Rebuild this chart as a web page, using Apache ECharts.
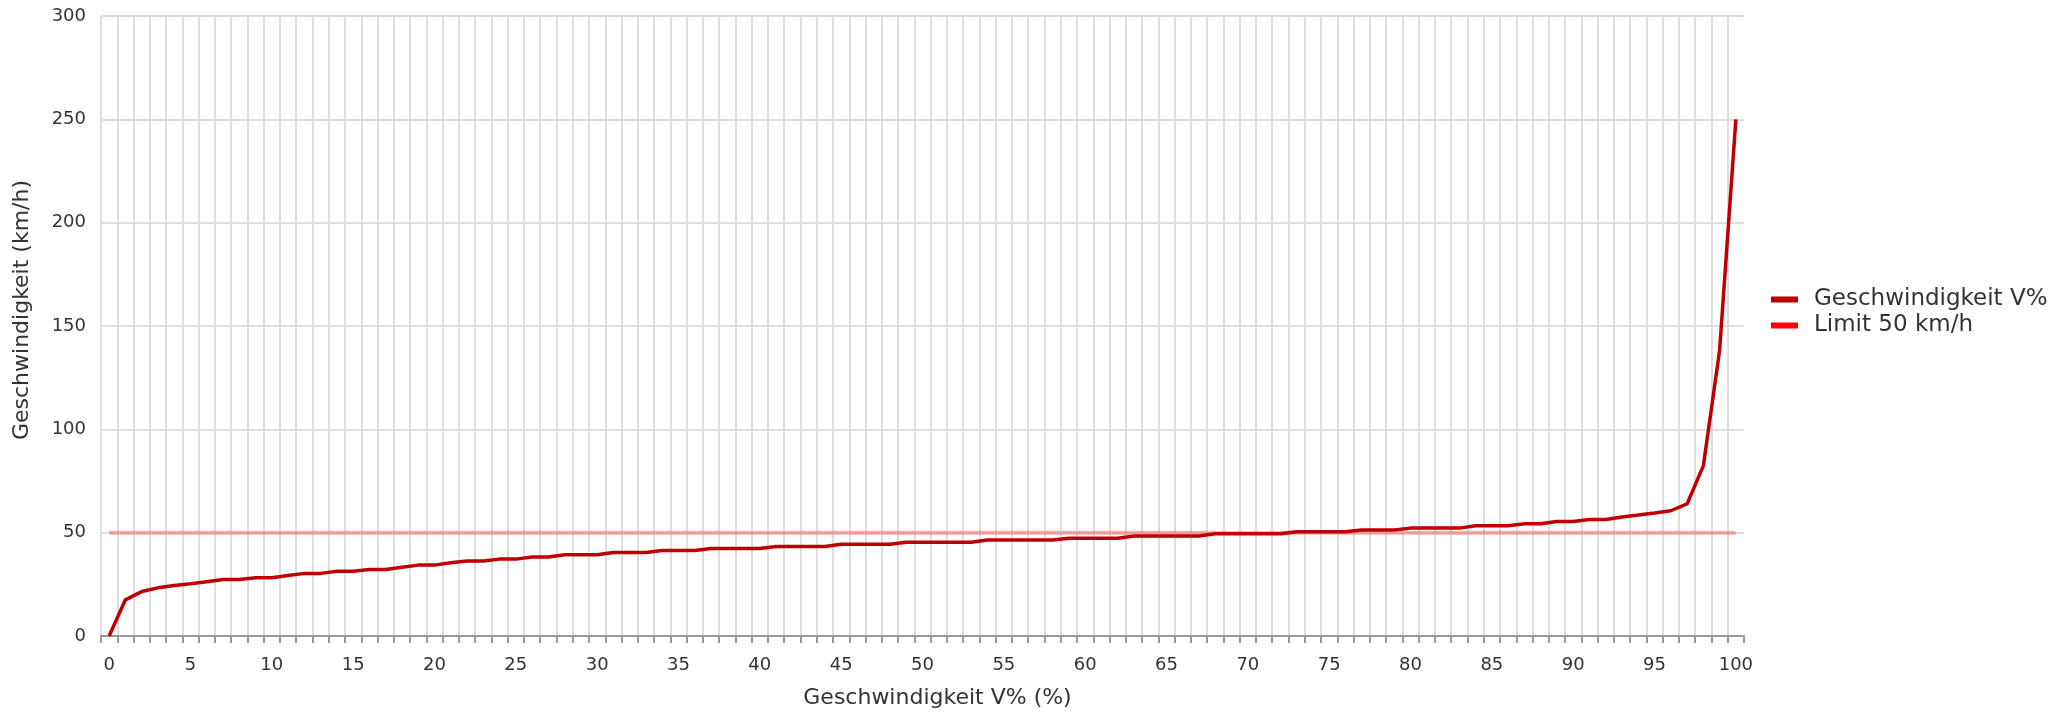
<!DOCTYPE html>
<html>
<head>
<meta charset="utf-8">
<script src="https://cdn.jsdelivr.net/npm/echarts@6/dist/echarts.min.js"></script>
<style>
html,body{margin:0;padding:0;background:#fff;}
#chart{width:2058px;height:714px;}
</style>
</head>
<body>
<div id="chart"></div>
<script>
var categories = ['0','1','2','3','4','5','6','7','8','9','10','11','12','13','14','15','16','17','18','19','20','21','22','23','24','25','26','27','28','29','30','31','32','33','34','35','36','37','38','39','40','41','42','43','44','45','46','47','48','49','50','51','52','53','54','55','56','57','58','59','60','61','62','63','64','65','66','67','68','69','70','71','72','73','74','75','76','77','78','79','80','81','82','83','84','85','86','87','88','89','90','91','92','93','94','95','96','97','98','99','100'];

var speedValues = [0, 17.5, 21.5, 23.3, 24.4, 25.3, 26.3, 27.3, 27.3, 28.2,
  28.2, 29.3, 30.3, 30.3, 31.3, 31.3, 32.2, 32.2, 33.3, 34.3,
  34.3, 35.4, 36.3, 36.3, 37.2, 37.2, 38.2, 38.2, 39.3, 39.3,
  39.3, 40.4, 40.4, 40.4, 41.4, 41.4, 41.4, 42.3, 42.3, 42.3,
  42.3, 43.3, 43.3, 43.3, 43.3, 44.4, 44.4, 44.4, 44.4, 45.4,
  45.4, 45.4, 45.4, 45.4, 46.4, 46.4, 46.4, 46.4, 46.4, 47.3,
  47.3, 47.3, 47.3, 48.4, 48.4, 48.4, 48.4, 48.4, 49.5, 49.5,
  49.5, 49.5, 49.5, 50.4, 50.4, 50.4, 50.4, 51.3, 51.3, 51.3,
  52.2, 52.2, 52.2, 52.2, 53.3, 53.3, 53.3, 54.3, 54.3, 55.4,
  55.4, 56.4, 56.4, 57.6, 58.6, 59.5, 60.6, 63.9, 82.3, 138.2,
  250];

var limitValue = 50;
var limitValues = categories.map(function () { return limitValue; });

var yTicks = [0, 50, 100, 150, 200, 250, 300];

var seriesNames = ['Geschwindigkeit V%', 'Limit 50 km/h'];
var xAxisTitle = 'Geschwindigkeit V% (%)';
var yAxisTitle = 'Geschwindigkeit (km/h)';

var chart = echarts.init(document.getElementById('chart'), null, {renderer: 'canvas'});
var font = 'DejaVu Sans';
chart.setOption({
  animation: false,
  backgroundColor: '#ffffff',
  textStyle: {fontFamily: font},
  grid: {left: 101, right: 314, top: 16, bottom: 76, containLabel: false},
  legend: {
    orient: 'vertical',
    left: 1766,
    top: 283,
    itemGap: 3,
    itemWidth: 27,
    itemHeight: 6,
    icon: 'rect',
    textStyle: {fontFamily: font, fontSize: 23, color: '#333333', padding: [0, 0, 0, 11]},
    data: [
      {name: seriesNames[0], itemStyle: {color: '#c00000'}},
      {name: seriesNames[1], itemStyle: {color: '#ff0000', opacity: 1}}
    ]
  },
  xAxis: {
    type: 'category',
    data: categories,
    boundaryGap: true,
    name: xAxisTitle,
    nameLocation: 'middle',
    nameGap: 51,
    nameTextStyle: {fontFamily: font, fontSize: 22, color: '#333333', padding: [0, 0, 0, 30]},
    axisLine: {show: true, lineStyle: {color: '#999999', width: 2}},
    axisTick: {show: true, interval: 0, length: 7, lineStyle: {color: '#999999', width: 2}},
    axisLabel: {interval: 4, margin: 20, fontFamily: font, fontSize: 18, color: '#333333'},
    splitLine: {show: true, interval: 0, showMaxLine: false, lineStyle: {color: '#dedede', width: 2}}
  },
  yAxis: {
    type: 'value',
    min: yTicks[0],
    max: yTicks[yTicks.length - 1],
    interval: 50,
    name: yAxisTitle,
    nameLocation: 'middle',
    nameGap: 68,
    nameTextStyle: {fontFamily: font, fontSize: 22, color: '#333333', padding: [0, 0, 0, 32]},
    axisLine: {show: false},
    axisTick: {show: false},
    axisLabel: {margin: 15, fontFamily: font, fontSize: 18, color: '#333333'},
    splitLine: {show: true, lineStyle: {color: '#dedede', width: 2}}
  },
  series: [
    {
      name: seriesNames[0],
      type: 'line',
      data: speedValues,
      showSymbol: false,
      symbol: 'none',
      z: 3,
      itemStyle: {color: '#c00000'},
      lineStyle: {color: '#c00000', width: 3.5}
    },
    {
      name: seriesNames[1],
      type: 'line',
      data: limitValues,
      showSymbol: false,
      symbol: 'none',
      z: 2,
      itemStyle: {color: '#ff0000'},
      lineStyle: {color: '#ff0000', width: 4, opacity: 0.3}
    }
  ]
});
</script>
</body>
</html>
